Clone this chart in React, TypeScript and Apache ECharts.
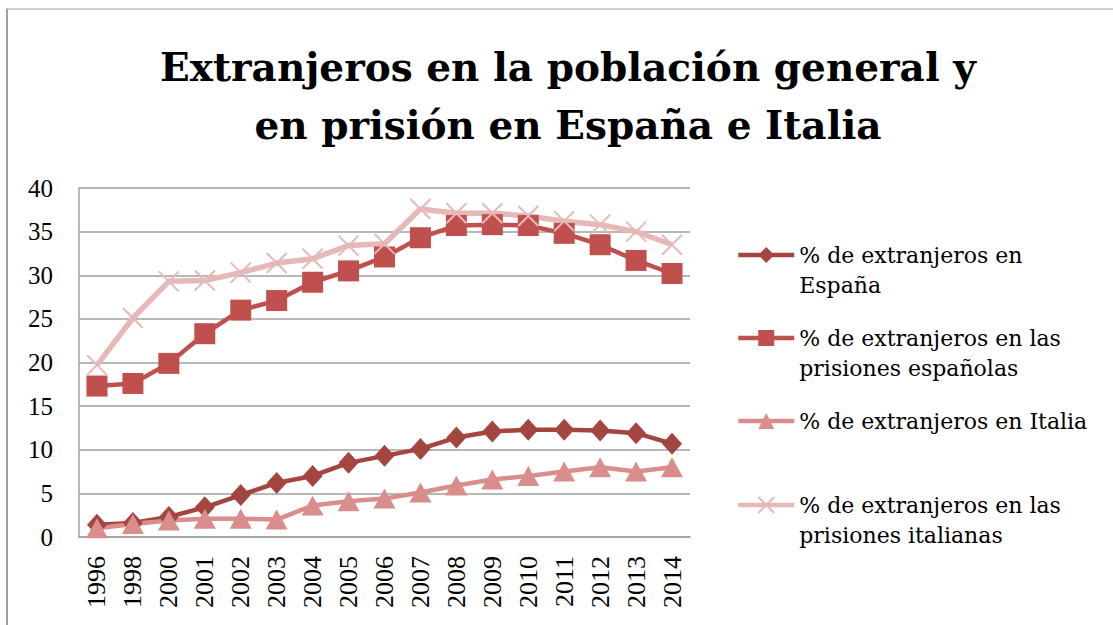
import React, { useEffect, useRef } from "react";
import * as echarts from "echarts";

const years = ["1996","1998","2000","2001","2002","2003","2004","2005","2006","2007","2008","2009","2010","2011","2012","2013","2014"];
const espana = [1.4, 1.6, 2.3, 3.4, 4.8, 6.2, 7.0, 8.5, 9.3, 10.1, 11.4, 12.1, 12.3, 12.3, 12.2, 11.9, 10.7];
const prisionesEsp = [17.3, 17.6, 19.9, 23.3, 26.0, 27.1, 29.2, 30.5, 32.1, 34.3, 35.7, 35.8, 35.7, 34.8, 33.5, 31.7, 30.2];
const italia = [1.0, 1.5, 1.9, 2.1, 2.1, 2.0, 3.6, 4.1, 4.4, 5.1, 5.9, 6.6, 7.0, 7.5, 8.0, 7.5, 8.0];
const prisionesIta = [19.7, 25.1, 29.3, 29.4, 30.3, 31.4, 31.9, 33.4, 33.6, 37.6, 37.1, 37.1, 36.8, 36.2, 35.8, 35.0, 33.5];

const names = [
  "% de extranjeros en\nEspaña",
  "% de extranjeros en las\nprisiones españolas",
  "% de extranjeros en Italia",
  "% de extranjeros en las\nprisiones italianas",
];
const yTicks = [0, 5, 10, 15, 20, 25, 30, 35, 40];

const SERIF = "'Liberation Serif', 'DejaVu Serif', serif";
const WIDE_SERIF = "'DejaVu Serif', 'Liberation Serif', serif";

export default function App() {
  const ref = useRef<HTMLDivElement>(null);
  useEffect(() => {
    if (!ref.current) return;
    const chart = echarts.init(ref.current, null, { renderer: "svg" });
    const lineH = 30;
    const legendTops = [255, 338, 421, 505];
    const legends = names.map((n, i) => {
      const two = n.indexOf("\n") >= 0;
      return {
        show: true,
        data: [n],
        left: 736,
        top: two ? legendTops[i] - 1.5 * lineH : legendTops[i] - lineH / 2,
        orient: "vertical",
        itemWidth: 56,
        itemHeight: 20,
        itemGap: 0,
        padding: 0,
        lineStyle: { width: 4.5 },
        formatter: (name: string) => (name.indexOf("\n") >= 0 ? "\n" + name : name),
        textStyle: {
          fontFamily: WIDE_SERIF,
          fontSize: 22,
          color: "#000",
          lineHeight: lineH,
        },
      };
    });
    const xPath = "path://M0,0L10,10M10,0L0,10";
    chart.setOption({
      animation: false,
      title: {
        text: "Extranjeros en la población general y\nen prisión en España e Italia",
        left: 563,
        textAlign: "center",
        top: 33,
        textStyle: {
          fontFamily: WIDE_SERIF,
          fontSize: 39,
          fontWeight: "bold",
          color: "#000",
          lineHeight: 58,
        },
      },
      legend: legends,
      grid: { left: 79, right: 423, top: 188, bottom: 88, containLabel: false },
      xAxis: {
        type: "category",
        data: years,
        boundaryGap: true,
        axisTick: { show: false },
        axisLine: { show: true, lineStyle: { color: "#A0A0A0", width: 1.5 } },
        axisLabel: {
          rotate: 90,
          interval: 0,
          margin: 19,
          fontFamily: SERIF,
          fontSize: 26,
          color: "#000",
        },
      },
      yAxis: {
        type: "value",
        min: 0,
        max: 40,
        interval: 5,
        axisLine: { show: true, lineStyle: { color: "#A0A0A0", width: 1.5 } },
        axisTick: { show: false },
        splitLine: { show: true, lineStyle: { color: "#A0A0A0", width: 1.5 } },
        axisLabel: {
          margin: 26,
          fontFamily: SERIF,
          fontSize: 25,
          color: "#000",
          formatter: (v: number) => (yTicks.indexOf(v) >= 0 ? String(v) : ""),
        },
      },
      series: [
        {
          name: names[0],
          type: "line",
          data: espana,
          symbol: "diamond",
          symbolSize: [20, 22],
          color: "#A3463F",
          lineStyle: { width: 4.5, color: "#A3463F" },
          itemStyle: { color: "#A3463F" },
        },
        {
          name: names[1],
          type: "line",
          data: prisionesEsp,
          symbol: "rect",
          symbolSize: 21,
          color: "#C0504D",
          lineStyle: { width: 4.5, color: "#C0504D" },
          itemStyle: { color: "#C0504D" },
        },
        {
          name: names[2],
          type: "line",
          data: italia,
          symbol: "triangle",
          symbolSize: [22, 20],
          color: "#D98E8B",
          lineStyle: { width: 4.5, color: "#D98E8B" },
          itemStyle: { color: "#D98E8B" },
        },
        {
          name: names[3],
          type: "line",
          data: prisionesIta,
          symbol: xPath,
          symbolSize: 20,
          color: "#E6B9B8",
          lineStyle: { width: 5.5, color: "#E6B9B8" },
          itemStyle: { color: "#E6B9B8", borderColor: "#E6B9B8", borderWidth: 2 },
        },
      ],
      graphic: [
        { type: "line", shape: { x1: 7, y1: 9, x2: 7, y2: 625 }, style: { stroke: "#A0A0A0", lineWidth: 2 } },
        { type: "line", shape: { x1: 6, y1: 9, x2: 1113, y2: 9 }, style: { stroke: "#A0A0A0", lineWidth: 1 } },
      ],
    });
    return () => chart.dispose();
  }, []);
  return (
    <div
      ref={ref}
      style={{ position: "absolute", left: 0, top: 0, width: 1113, height: 625, background: "#fff" }}
    />
  );
}
